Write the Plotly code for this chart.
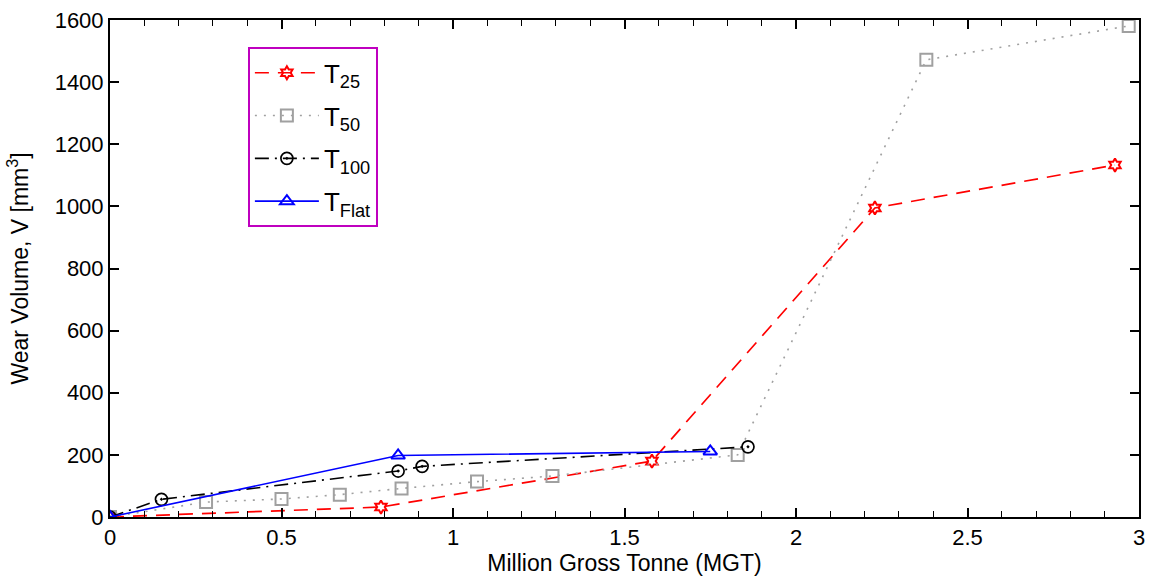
import plotly.graph_objects as go

# Data
t25_x = [0, 0.79, 1.58, 2.23, 2.93]
t25_y = [0, 32, 180, 995, 1133]

t50_x = [0, 0.28, 0.50, 0.67, 0.85, 1.07, 1.29, 1.83, 2.38, 2.97]
t50_y = [0, 48, 58, 72, 92, 114, 132, 200, 1472, 1581]

t100_x = [0, 0.15, 0.84, 0.91, 1.86]
t100_y = [0, 57, 148, 163, 226]

tflat_x = [0, 0.84, 1.75]
tflat_y = [0, 198, 211]

font = "Liberation Sans, Arial, Helvetica, sans-serif"

fig = go.Figure()
fig.add_trace(go.Scatter(x=t25_x, y=t25_y, mode="lines+markers", name="T<sub>25</sub>",
                         legendgroup="a",
                         line=dict(color="#FF0000", width=1.7, dash="14px,9px"),
                         marker=dict(symbol="hexagram-open", size=10, color="#FF0000", line=dict(width=2))))
fig.add_trace(go.Scatter(x=t50_x, y=t50_y, mode="lines+markers", name="T<sub>50</sub>",
                         legendgroup="b",
                         line=dict(color="#A0A0A0", width=1.6, dash="2px,7px"),
                         marker=dict(symbol="square-open", size=12, color="#A0A0A0", line=dict(width=2))))
fig.add_trace(go.Scatter(x=t100_x, y=t100_y, mode="lines+markers", name="T<sub>100</sub>",
                         legendgroup="c",
                         line=dict(color="#000000", width=1.6, dash="14px,6px,2px,6px"),
                         marker=dict(symbol="circle-open-dot", size=12, color="#000000", line=dict(width=1.7))))
fig.add_trace(go.Scatter(x=tflat_x, y=tflat_y, mode="lines+markers", name="T<sub>Flat</sub>",
                         legendgroup="d",
                         line=dict(color="#0000FF", width=1.6),
                         marker=dict(symbol="triangle-up-open", size=12, color="#0000FF", line=dict(width=2))))

axis_common = dict(showgrid=False, zeroline=False, showline=True, linecolor="black", linewidth=2,
                   mirror="ticks", ticks="inside", ticklen=9, tickwidth=1.5, tickcolor="black",
                   tickfont=dict(family=font, size=22, color="black"))

fig.update_layout(
    width=1153, height=582,
    margin=dict(l=110, r=8, t=16, b=65),
    paper_bgcolor="white", plot_bgcolor="white",
    font=dict(family=font, size=22, color="black"),
    xaxis=dict(range=[0, 3], dtick=0.5, tick0=0,
               title=dict(text="Million Gross Tonne (MGT)", font=dict(family=font, size=23), standoff=2),
               minor=dict(dtick=0.1, ticks="inside", ticklen=6, tickcolor="black", tickwidth=1.3),
               **axis_common),
    yaxis=dict(range=[0, 1600], dtick=200, tick0=0,
               title=dict(text="Wear Volume, V [mm<sup>3</sup>]", font=dict(family=font, size=23), standoff=20),
               **axis_common),
    legend=dict(x=0.134, y=0.945, xanchor="left", yanchor="top",
                bordercolor="#BF00BF", borderwidth=2, bgcolor="white",
                font=dict(family=font, size=26, color="black"),
                itemwidth=64, tracegroupgap=6),
    showlegend=True,
)

fig.write_html("out.html")
